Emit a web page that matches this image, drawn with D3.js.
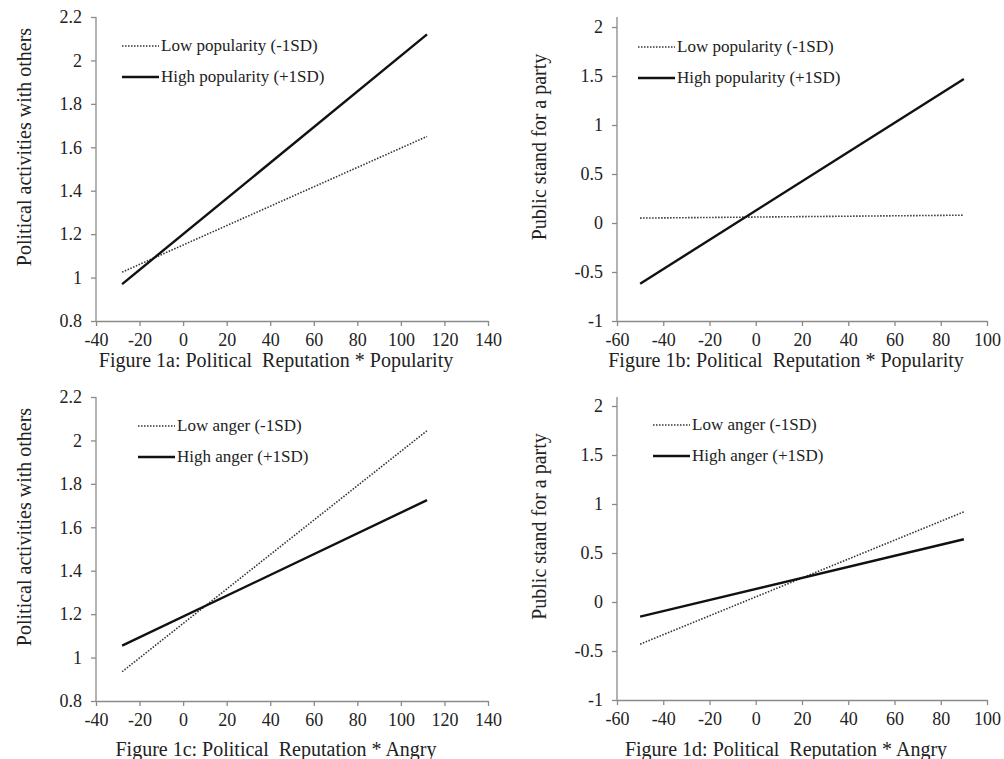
<!DOCTYPE html>
<html>
<head>
<meta charset="utf-8">
<script src="https://cdn.jsdelivr.net/npm/d3@7"></script>
<style>
  body { margin: 0; background: #fff; }
</style>
</head>
<body>
<svg width="1004" height="759"></svg>
<script>
// values (line end points)
var xA = [-28, 112];
var lowPopA = [1.025, 1.65];
var highPopA = [0.97, 2.12];

var xB = [-50, 90];
var lowPopB = [0.05, 0.08];
var highPopB = [-0.62, 1.47];

var xC = [-28, 112];
var lowAngerC = [0.935, 2.045];
var highAngerC = [1.055, 1.725];

var xD = [-50, 90];
var lowAngerD = [-0.43, 0.92];
var highAngerD = [-0.15, 0.64];

var xTicksAC = [-40, -20, 0, 20, 40, 60, 80, 100, 120, 140];
var yTicksAC = [0.8, 1, 1.2, 1.4, 1.6, 1.8, 2, 2.2];
var xTicksBD = [-60, -40, -20, 0, 20, 40, 60, 80, 100];
var yTicksBD = [-1, -0.5, 0, 0.5, 1, 1.5, 2];

var yTitleAC = "Political activities with others";
var yTitleBD = "Public stand for a party";
var captions = ["Figure 1a: Political  Reputation * Popularity",
                "Figure 1b: Political  Reputation * Popularity",
                "Figure 1c: Political  Reputation * Angry",
                "Figure 1d: Political  Reputation * Angry"];
var lowPopLabel = "Low popularity (-1SD)";
var highPopLabel = "High popularity (+1SD)";
var lowAngerLabel = "Low anger (-1SD)";
var highAngerLabel = "High anger (+1SD)";

var serif = "'Liberation Serif', 'Times New Roman', 'DejaVu Serif', serif";
var svg = d3.select('svg');
var axisColor = '#8a8a8a';

var panels = [
  { left: 96, right: 488, top: 17, bottom: 321, axTop: 17,
    x: xA, low: lowPopA, high: highPopA, xTicks: xTicksAC, yTicks: yTicksAC,
    yTitle: yTitleAC, yTitleX: 24, caption: captions[0], capY: 367,
    lowLabel: lowPopLabel, highLabel: highPopLabel, legX: 122, legY: 46 },
  { left: 617, right: 987, top: 27, bottom: 321, axTop: 17,
    x: xB, low: lowPopB, high: highPopB, xTicks: xTicksBD, yTicks: yTicksBD,
    yTitle: yTitleBD, yTitleX: 539, caption: captions[1], capY: 367,
    lowLabel: lowPopLabel, highLabel: highPopLabel, legX: 638, legY: 47 },
  { left: 96, right: 488, top: 397, bottom: 701, axTop: 397,
    x: xC, low: lowAngerC, high: highAngerC, xTicks: xTicksAC, yTicks: yTicksAC,
    yTitle: yTitleAC, yTitleX: 24, caption: captions[2], capY: 756,
    lowLabel: lowAngerLabel, highLabel: highAngerLabel, legX: 138, legY: 426 },
  { left: 617, right: 987, top: 406, bottom: 700, axTop: 397,
    x: xD, low: lowAngerD, high: highAngerD, xTicks: xTicksBD, yTicks: yTicksBD,
    yTitle: yTitleBD, yTitleX: 539, caption: captions[3], capY: 756,
    lowLabel: lowAngerLabel, highLabel: highAngerLabel, legX: 653, legY: 425 }
];

panels.forEach(function(p)
{
  var xscale = d3.scaleLinear()
                 .domain(d3.extent(p.xTicks))
                 .range([p.left, p.right]);
  var yscale = d3.scaleLinear()
                 .domain(d3.extent(p.yTicks))
                 .range([p.bottom, p.top]);

  var g = svg.append('g');

  // x axis
  var xg = g.append('g')
            .attr('transform', 'translate(0,' + p.bottom + ')')
            .call(d3.axisBottom(xscale).tickValues(p.xTicks)
                    .tickSize(5).tickSizeOuter(0).tickPadding(7)
                    .tickFormat(function(d) { return d; }));
  // y axis
  var yg = g.append('g')
            .attr('transform', 'translate(' + p.left + ',0)')
            .call(d3.axisLeft(yscale).tickValues(p.yTicks)
                    .tickSize(5).tickSizeOuter(0).tickPadding(9)
                    .tickFormat(function(d) { return d; }));
  yg.select('.domain').attr('d', 'M0,' + p.axTop + 'V' + p.bottom);

  g.selectAll('.domain, .tick line').attr('stroke', axisColor).attr('stroke-width', 1.3);
  xg.attr('font-family', null).attr('font-size', null);
  yg.attr('font-family', null).attr('font-size', null);
  g.selectAll('.tick text')
   .style('font-family', serif).style('font-size', '18px').attr('fill', '#222');

  // lines
  var line = d3.line()
               .x(function(d) { return xscale(d[0]); })
               .y(function(d) { return yscale(d[1]); });
  var lowPts = p.x.map(function(v, i) { return [v, p.low[i]]; });
  var highPts = p.x.map(function(v, i) { return [v, p.high[i]]; });

  g.append('path').datum(lowPts).attr('d', line)
   .attr('fill', 'none').attr('stroke', '#333').attr('stroke-width', 1.6)
   .attr('stroke-dasharray', '1.5,1.5');
  g.append('path').datum(highPts).attr('d', line)
   .attr('fill', 'none').attr('stroke', '#111').attr('stroke-width', 2.4);

  // legend
  var leg = g.append('g').attr('transform', 'translate(' + p.legX + ',' + p.legY + ')');
  leg.append('line').attr('x1', 0).attr('x2', 37).attr('y1', 0).attr('y2', 0)
     .attr('stroke', '#333').attr('stroke-width', 1.6).attr('stroke-dasharray', '1.5,1.5');
  leg.append('text').attr('x', 39).attr('y', 5)
     .style('font-family', serif).style('font-size', '17px').attr('fill', '#222')
     .text(p.lowLabel);
  leg.append('line').attr('x1', 0).attr('x2', 37).attr('y1', 31).attr('y2', 31)
     .attr('stroke', '#111').attr('stroke-width', 2.4);
  leg.append('text').attr('x', 39).attr('y', 36)
     .style('font-family', serif).style('font-size', '17px').attr('fill', '#222')
     .text(p.highLabel);

  // titles
  g.append('text')
   .attr('transform', 'translate(' + p.yTitleX + ',' + ((p.axTop + p.bottom) / 2 - 22) + ') rotate(-90)')
   .attr('text-anchor', 'middle').attr('dy', '0.35em')
   .style('font-family', serif).style('font-size', '20px').attr('fill', '#222')
   .text(p.yTitle);
  g.append('text')
   .attr('x', (p.left + p.right) / 2 - 16).attr('y', p.capY)
   .attr('text-anchor', 'middle')
   .style('font-family', serif).style('font-size', '20px').attr('fill', '#222')
   .style('white-space', 'pre')
   .text(p.caption);
});
</script>
</body>
</html>
